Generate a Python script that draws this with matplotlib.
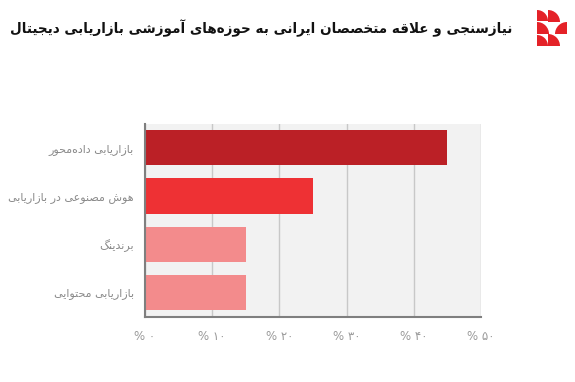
import matplotlib
matplotlib.use("Agg")
import matplotlib.pyplot as plt
from matplotlib.patches import Wedge

# ---------------- data ----------------
categories = [
    "بازاریابی داده\u200cمحور",
    "هوش مصنوعی در بازاریابی",
    "برندینگ",
    "بازاریابی محتوایی",
]
values = [45, 25, 15, 15]
bar_colors = ["#bb2026", "#ee3134", "#f38b8c", "#f38b8c"]
tick_values = [0, 10, 20, 30, 40, 50]
tick_labels = ["% ۰", "% ۱۰", "% ۲۰", "% ۳۰", "% ۴۰", "% ۵۰"]
title = "نیازسنجی و علاقه متخصصان ایرانی به حوزه\u200cهای آموزشی بازاریابی دیجیتال"

# ---------------- minimal Persian shaper ----------------
# (isolated, final, initial, medial)
FORMS = {
    "\u0627": ("\uFE8D", "\uFE8E", None, None),
    "\u0622": ("\uFE81", "\uFE82", None, None),
    "\u0628": ("\uFE8F", "\uFE90", "\uFE91", "\uFE92"),
    "\u067E": ("\uFB56", "\uFB57", "\uFB58", "\uFB59"),
    "\u062A": ("\uFE95", "\uFE96", "\uFE97", "\uFE98"),
    "\u062B": ("\uFE99", "\uFE9A", "\uFE9B", "\uFE9C"),
    "\u062C": ("\uFE9D", "\uFE9E", "\uFE9F", "\uFEA0"),
    "\u0686": ("\uFB7A", "\uFB7B", "\uFB7C", "\uFB7D"),
    "\u062D": ("\uFEA1", "\uFEA2", "\uFEA3", "\uFEA4"),
    "\u062E": ("\uFEA5", "\uFEA6", "\uFEA7", "\uFEA8"),
    "\u062F": ("\uFEA9", "\uFEAA", None, None),
    "\u0630": ("\uFEAB", "\uFEAC", None, None),
    "\u0631": ("\uFEAD", "\uFEAE", None, None),
    "\u0632": ("\uFEAF", "\uFEB0", None, None),
    "\u0698": ("\uFB8A", "\uFB8B", None, None),
    "\u0633": ("\uFEB1", "\uFEB2", "\uFEB3", "\uFEB4"),
    "\u0634": ("\uFEB5", "\uFEB6", "\uFEB7", "\uFEB8"),
    "\u0635": ("\uFEB9", "\uFEBA", "\uFEBB", "\uFEBC"),
    "\u0636": ("\uFEBD", "\uFEBE", "\uFEBF", "\uFEC0"),
    "\u0637": ("\uFEC1", "\uFEC2", "\uFEC3", "\uFEC4"),
    "\u0638": ("\uFEC5", "\uFEC6", "\uFEC7", "\uFEC8"),
    "\u0639": ("\uFEC9", "\uFECA", "\uFECB", "\uFECC"),
    "\u063A": ("\uFECD", "\uFECE", "\uFECF", "\uFED0"),
    "\u0641": ("\uFED1", "\uFED2", "\uFED3", "\uFED4"),
    "\u0642": ("\uFED5", "\uFED6", "\uFED7", "\uFED8"),
    "\u06A9": ("\uFB8E", "\uFB8F", "\uFB90", "\uFB91"),
    "\u06AF": ("\uFB92", "\uFB93", "\uFB94", "\uFB95"),
    "\u0644": ("\uFEDD", "\uFEDE", "\uFEDF", "\uFEE0"),
    "\u0645": ("\uFEE1", "\uFEE2", "\uFEE3", "\uFEE4"),
    "\u0646": ("\uFEE5", "\uFEE6", "\uFEE7", "\uFEE8"),
    "\u0648": ("\uFEED", "\uFEEE", None, None),
    "\u0647": ("\uFEE9", "\uFEEA", "\uFEEB", "\uFEEC"),
    "\u06CC": ("\uFBFC", "\uFBFD", "\uFBFE", "\uFBFF"),
}
LAM_ALEF = {"\u0627": ("\uFEFB", "\uFEFC"), "\u0622": ("\uFEF5", "\uFEF6")}


def dual(c):
    return c in FORMS and FORMS[c][2] is not None


def shape(text):
    out = []
    n = len(text)
    i = 0
    while i < n:
        c = text[i]
        if c not in FORMS:
            if c != "\u200c":
                out.append(c)
            i += 1
            continue
        prev_join = i > 0 and dual(text[i - 1])
        if c == "\u0644" and i + 1 < n and text[i + 1] in LAM_ALEF:
            iso, fin = LAM_ALEF[text[i + 1]]
            out.append(fin if prev_join else iso)
            i += 2
            continue
        next_join = dual(c) and i + 1 < n and text[i + 1] in FORMS
        iso, fin, ini, med = FORMS[c]
        if prev_join and next_join:
            out.append(med)
        elif prev_join:
            out.append(fin)
        elif next_join:
            out.append(ini)
        else:
            out.append(iso)
        i += 1
    return "".join(out)[::-1]


FONT = ["DejaVu Sans"]
plt.rcParams["font.family"] = FONT

# ---------------- figure ----------------
W, H = 575, 382
fig = plt.figure(figsize=(W / 100, H / 100), dpi=100)
fig.patch.set_facecolor("white")

ax = fig.add_axes([145 / W, 1 - 317 / H, (481 - 145) / W, (317 - 124) / H])
ax.set_facecolor("#f2f2f2")
ypos = list(range(len(categories)))
ax.barh(ypos, values, height=0.73, color=bar_colors, zorder=3)
ax.set_xlim(0, 50)
ax.set_ylim(len(categories) - 0.5 + 0.01, -0.49)
ax.set_xticks(tick_values)
ax.set_xticklabels(tick_labels, fontsize=8.5, color="#9a9a9a")
ax.set_yticks(ypos)
ax.set_yticklabels([shape(c) for c in categories], fontsize=8, color="#8a8a8a")
ax.tick_params(axis="both", length=0)
ax.tick_params(axis="y", pad=8)
ax.tick_params(axis="x", pad=9)
ax.grid(axis="x", color="#c8c8c8", linewidth=1, zorder=1)
ax.grid(axis="y", visible=False)
for s in ["top", "right"]:
    ax.spines[s].set_visible(False)
for s in ["left", "bottom"]:
    ax.spines[s].set_color("#7f7f7f")
    ax.spines[s].set_linewidth(1.5)
    ax.spines[s].set_zorder(4)

# title, fitted to span the same width as the reference (x 10..512 px)
t = fig.text(512 / W, 1 - 28 / H, shape(title), ha="right", va="center",
             fontsize=11, fontweight="bold", color="#111111")
fig.canvas.draw()
wpx = t.get_window_extent().width
t.set_fontsize(11 * 500 / wpx)

# logo
lax = fig.add_axes([0, 0, 1, 1], zorder=-1)
lax.set_xlim(0, W)
lax.set_ylim(0, H)
lax.axis("off")
red = "#e42228"
for (cx, cy, r, t1, t2) in [
    (537, H - 21, 11, 0, 90),
    (548, H - 22, 12, 0, 90),
    (537, H - 34, 12, 0, 90),
    (567, H - 34, 12, 90, 180),
    (537, H - 46, 11, 0, 90),
    (548, H - 46, 12, 0, 90),
]:
    lax.add_patch(Wedge((cx, cy), r, t1, t2, color=red, lw=0))

fig.savefig("out.png", dpi=100, facecolor="white")
